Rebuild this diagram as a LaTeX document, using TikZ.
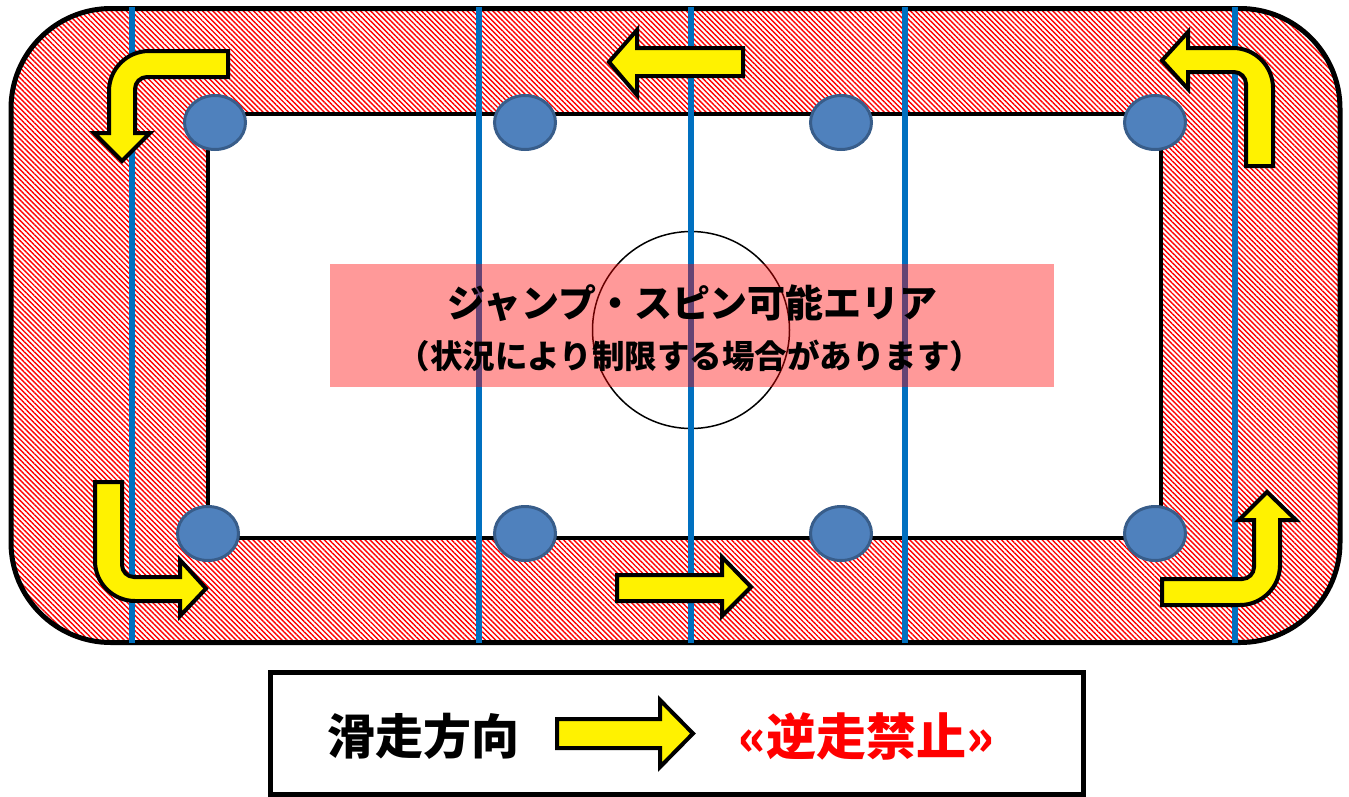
\documentclass[tikz,border=0pt]{standalone}
\usepackage{fontspec}
\setmainfont{Noto Sans CJK JP}
\usetikzlibrary{shapes.geometric, patterns.meta, positioning}
\definecolor{dotfill}{HTML}{4F81BD}
\definecolor{dotline}{HTML}{385D8A}
\definecolor{lineblue}{HTML}{0070C0}

\begin{document}
\begin{tikzpicture}[x=1pt, y=-1pt,
    dot/.style={ellipse, draw=dotline, fill=dotfill, line width=3pt, minimum width=61pt, minimum height=54pt, inner sep=0pt},
    lane/.style={draw=lineblue, line width=6pt},
    yarrow/.style={draw=black, fill=yellow, line width=4pt, line join=miter},
    big/.style={font=\bfseries\fontsize{38}{40}\selectfont},
    small/.style={font=\bfseries\fontsize{32.5}{34}\selectfont},
    legendtext/.style={font=\bfseries\fontsize{48}{50}\selectfont}]
    \useasboundingbox (0,0) rectangle (1349,796);
    \fill [pattern={Lines[angle=-45, distance=3.6pt, line width=1.4pt]}, pattern color=red, even odd rule]
      [rounded corners=100pt] (11,8.5) rectangle (1340,642.5) [sharp corners] (207.5,113.5) rectangle (1160.5,538);
    \draw [line width=5pt, rounded corners=100pt] (11,8.5) rectangle (1340,642.5);
    \draw [line width=4pt] (207.5,113.5) rectangle (1160.5,538);
    \node [circle, draw, line width=1.5pt, minimum size=197pt, inner sep=0pt] (spin) at (691,330) {};
    \foreach \x in {131.5, 479, 691, 905, 1235}
      \draw [lane] (\x,7) -- (\x,643);
    \node [dot] (d1) at (215,122.5) {};
    \node [dot] (d2) at (525,122.5) {};
    \node [dot] (d3) at (841,122.5) {};
    \node [dot] (d4) at (1155,122.5) {};
    \node [dot] (d5) at (208,533.5) {};
    \node [dot] (d6) at (525,533.5) {};
    \node [dot] (d7) at (841,533.5) {};
    \node [dot] (d8) at (1155,533.5) {};
    \node [fill=red, fill opacity=0.4, minimum width=724pt, minimum height=123pt, inner sep=0pt] (area) at (692,325.5) {};
    \node [big] (title) at (692.5,303) {ジャンプ・スピン可能エリア};
    \node [small] (note) at (690,356) {（状況により制限する場合があります）};
    \draw [yarrow] (228,51) -- (149,51) .. controls (127,51) and (109,69) .. (109,91) -- (109,133) -- (94,133)
      -- (122,161) -- (150,133) -- (135,133) -- (135,89) .. controls (135,82.4) and (140.4,77) .. (147,77) -- (228,77) -- cycle;
    \draw [yarrow] (743,48) -- (637,48) -- (637,30) -- (609,62) -- (637,95) -- (637,76) -- (743,76) -- cycle;
    \draw [yarrow] (1246,166) -- (1246,84) .. controls (1246,77.4) and (1240.6,72) .. (1234,72) -- (1188,72) -- (1188,89)
      -- (1162,60.5) -- (1188,32) -- (1188,48) -- (1233,48) .. controls (1255,48) and (1273,66) .. (1273,88) -- (1273,166) -- cycle;
    \draw [yarrow] (95,482) -- (95,561) .. controls (95,583) and (113,601) .. (135,601) -- (180,601) -- (180,616)
      -- (206,588.5) -- (180,560) -- (180,577) -- (134,577) .. controls (127.4,577) and (122,571.6) .. (122,565) -- (122,482) -- cycle;
    \draw [yarrow] (617,575) -- (722,575) -- (722,557) -- (751,587) -- (722,616) -- (722,601) -- (617,601) -- cycle;
    \draw [yarrow] (1162,579) -- (1242,579) .. controls (1248.6,579) and (1254,573.6) .. (1254,567) -- (1254,520) -- (1239,520)
      -- (1267,492) -- (1296,520) -- (1280,520) -- (1280,565) .. controls (1280,587) and (1262,605) .. (1240,605) -- (1162,605) -- cycle;
    \node [draw, line width=5pt, minimum width=813pt, minimum height=121.5pt, inner sep=0pt] (legend) at (676.5,733.25) {};
    \node [legendtext] (dir) at (423,736) {滑走方向};
    \draw [yarrow] (557,719) -- (660,719) -- (660,700) -- (693,733.5) -- (660,767) -- (660,748) -- (557,748) -- cycle;
    \node [legendtext, text=red, font=\bfseries\fontsize{50}{52}\selectfont] (ban) at (866,736) {«逆走禁止»};
\end{tikzpicture}
\end{document}
